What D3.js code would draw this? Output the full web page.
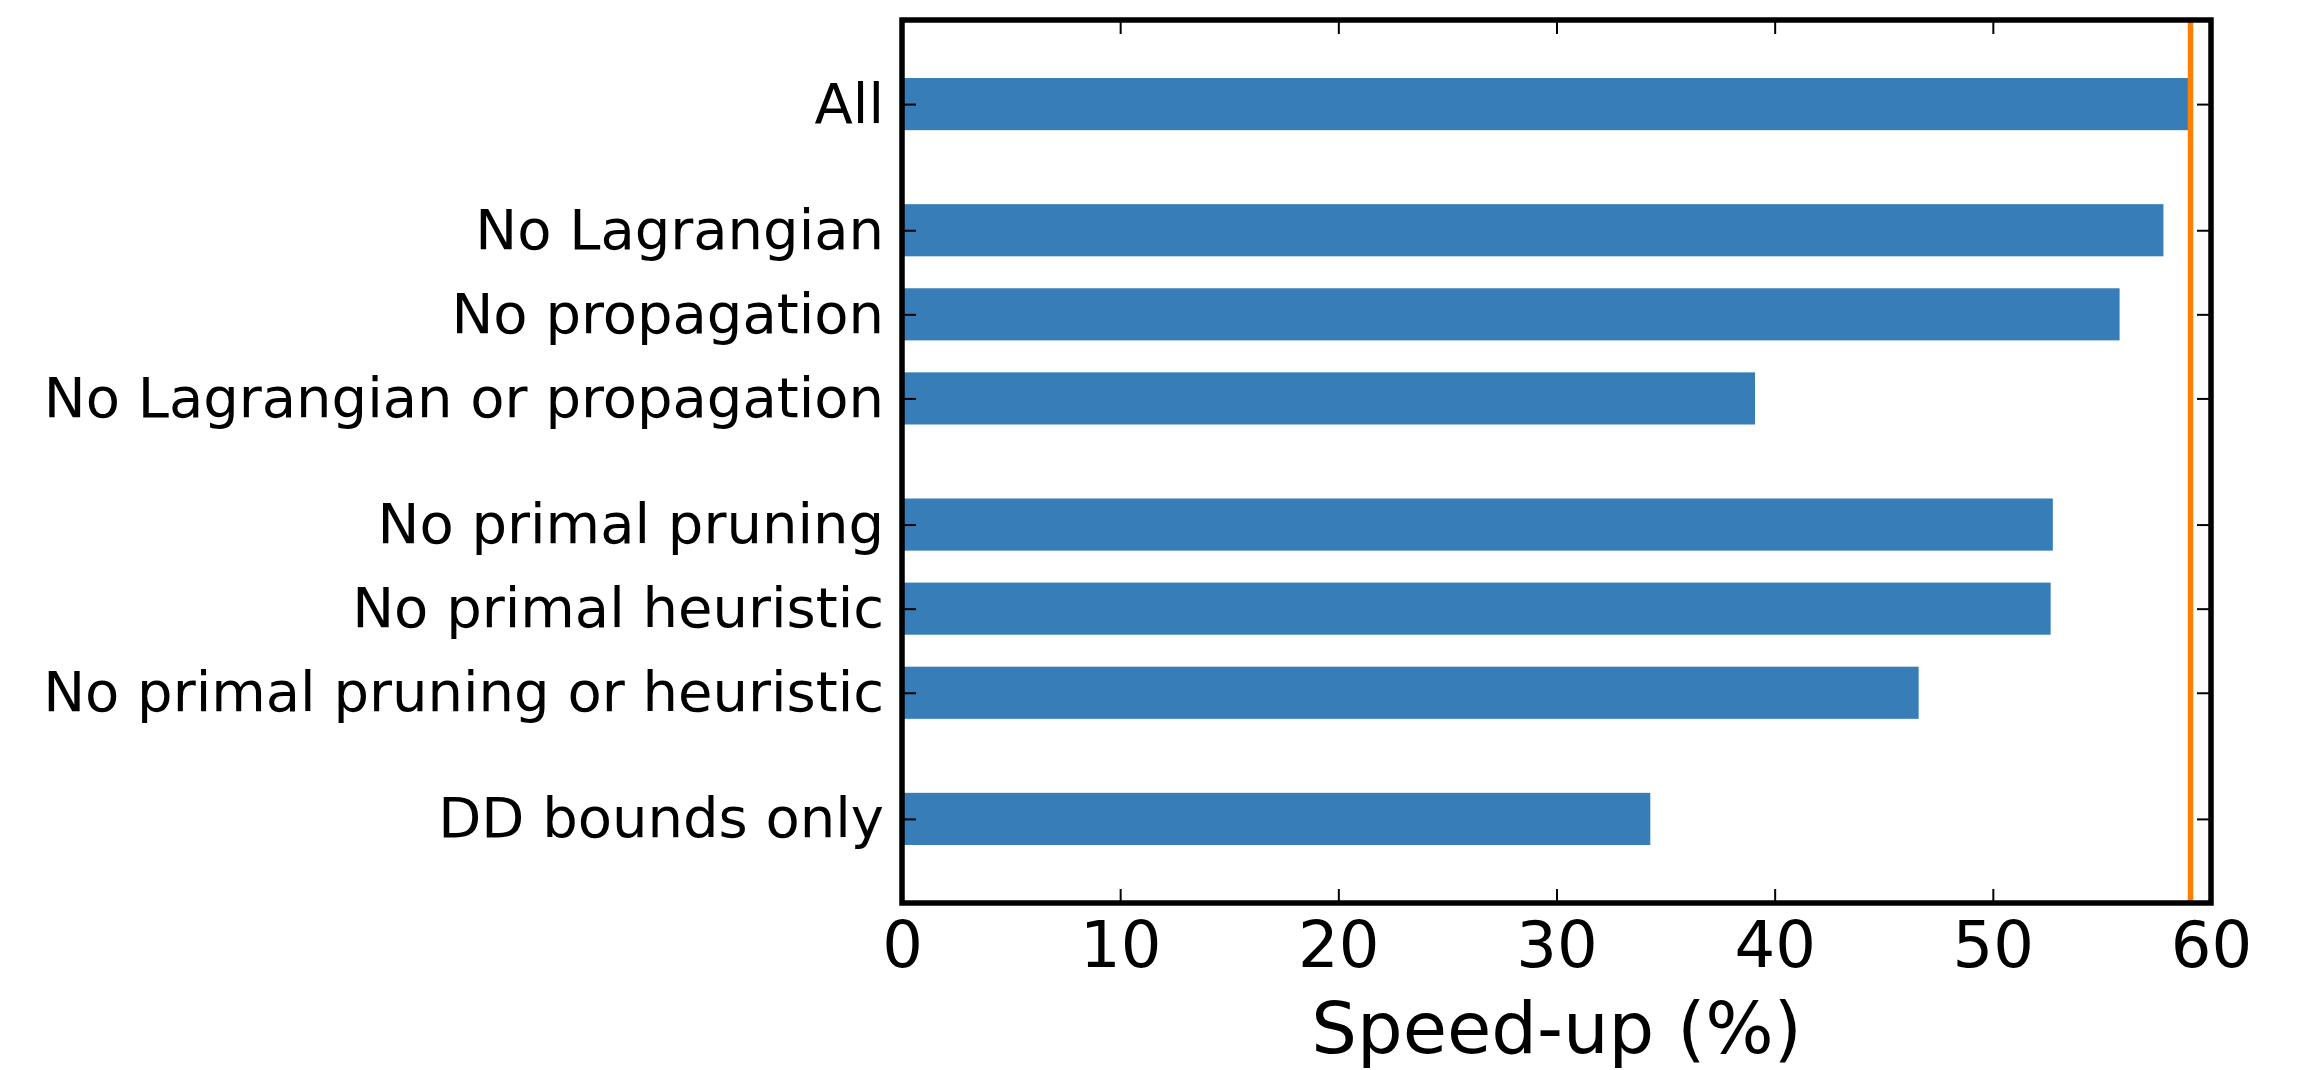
<!DOCTYPE html>
<html>
<head>
<meta charset="utf-8">
<script src="https://cdn.jsdelivr.net/npm/d3@7"></script>
<style>
  html, body { margin: 0; padding: 0; background: #ffffff; }
  svg { display: block; }
  text { font-family: "DejaVu Sans", sans-serif; fill: #000; }
</style>
</head>
<body>
<svg id="chart" width="2300" height="1070"></svg>
<script>
// Ablation results: speed-up obtained with each component configuration
const categories = [
  "All",
  "No Lagrangian",
  "No propagation",
  "No Lagrangian or propagation",
  "No primal pruning",
  "No primal heuristic",
  "No primal pruning or heuristic",
  "DD bounds only"
];
const speedups = [59.06, 57.82, 55.81, 39.1, 52.75, 52.65, 46.6, 34.3];
// How many consecutive categories belong to each block of bars
const groupSizes = [1, 3, 3, 1];
// Reference speed-up marked by the vertical line
const referenceSpeedup = [59.06];
const xTicks = [0, 10, 20, 30, 40, 50, 60];
const xLabel = "Speed-up (%)";

// Slot positions: one unit per bar, an extra half unit between blocks
const slots = [];
{
  let pos = 0;
  groupSizes.forEach((n, g) => {
    if (g > 0) pos += 0.5;
    for (let i = 0; i < n; i++) { slots.push(pos); pos += 1; }
  });
}

const svg = d3.select("#chart");
const plot = { left: 902, right: 2211, top: 20, bottom: 903 };

const x = d3.scaleLinear().domain([0, 60]).range([plot.left, plot.right]);
const y = d3.scaleLinear()
  .domain([-1, slots[slots.length - 1] + 1])
  .range([plot.top, plot.bottom]);
const barH = (y(1) - y(0)) * 0.62;

const blue = "#377eb8";
const orange = "#ff7f00";

// Bars
svg.append("g")
  .selectAll("rect")
  .data(speedups)
  .join("rect")
  .attr("x", x(0))
  .attr("y", (d, i) => y(slots[i]) - barH / 2)
  .attr("width", d => x(d) - x(0))
  .attr("height", barH)
  .attr("fill", blue);

// Reference line
svg.append("g")
  .selectAll("line")
  .data(referenceSpeedup)
  .join("line")
  .attr("x1", d => x(d)).attr("x2", d => x(d))
  .attr("y1", plot.top).attr("y2", plot.bottom)
  .attr("stroke", orange)
  .attr("stroke-width", 5.5);

const tickLen = 14;
const styleAxis = (g, fontSize) => {
  g.select(".domain").remove();
  g.selectAll(".tick line").attr("stroke", "#000").attr("stroke-width", 2);
  g.selectAll(".tick text")
    .style("font-size", fontSize + "px")
    .style("font-family", "'DejaVu Sans', sans-serif")
    .attr("fill", "#000");
};

// Bottom axis with labelled ticks pointing inward
svg.append("g")
  .attr("transform", `translate(0,${plot.bottom})`)
  .call(d3.axisBottom(x).tickValues(xTicks).tickFormat(d3.format("d"))
    .tickSizeInner(-tickLen).tickSizeOuter(0).tickPadding(19))
  .call(g => styleAxis(g, 64));

// Top axis: ticks only
svg.append("g")
  .attr("transform", `translate(0,${plot.top})`)
  .call(d3.axisTop(x).tickValues(xTicks).tickFormat("")
    .tickSizeInner(-tickLen).tickSizeOuter(0))
  .call(g => styleAxis(g, 64));

// Left axis with category labels
svg.append("g")
  .attr("transform", `translate(${plot.left},0)`)
  .call(d3.axisLeft(y).tickValues(slots).tickFormat((d, i) => categories[i])
    .tickSizeInner(-tickLen).tickSizeOuter(0).tickPadding(18))
  .call(g => styleAxis(g, 56));

// Right axis: ticks only
svg.append("g")
  .attr("transform", `translate(${plot.right},0)`)
  .call(d3.axisRight(y).tickValues(slots).tickFormat("")
    .tickSizeInner(-tickLen).tickSizeOuter(0))
  .call(g => styleAxis(g, 56));

// Frame around the plotting area
svg.append("rect")
  .attr("x", plot.left).attr("y", plot.top)
  .attr("width", plot.right - plot.left)
  .attr("height", plot.bottom - plot.top)
  .attr("fill", "none")
  .attr("stroke", "#000")
  .attr("stroke-width", 5.5);

// Axis title
svg.append("text")
  .attr("x", (plot.left + plot.right) / 2)
  .attr("y", 1053)
  .attr("text-anchor", "middle")
  .style("font-size", "72px")
  .text(xLabel);
</script>
</body>
</html>
